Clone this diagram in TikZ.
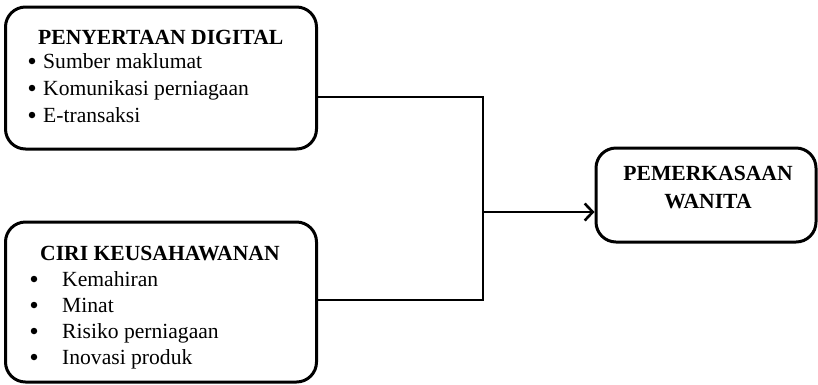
\documentclass[tikz,border=0pt]{standalone}
\usepackage{fontspec}
\setmainfont{Liberation Serif}
\usetikzlibrary{arrows.meta}
\begin{document}
\begin{tikzpicture}[x=1pt,y=-1pt,
  box/.style={draw,line width=3pt,rounded corners=20pt,inner sep=0pt},
  txt/.style={anchor=base west,inner sep=0pt,font=\fontsize{21.6}{26}\selectfont},
  ttl/.style={txt,font=\fontsize{21.6}{26}\selectfont\bfseries},
  bul/.style={circle,fill=black,inner sep=0pt,minimum size=6.5pt},
  conn/.style={line width=2.6pt},
  arr/.style={conn,-{Straight Barb[length=8pt,width=17pt,line width=2.6pt]}}]
\useasboundingbox (0,0) rectangle (818,384);
% boxes
\node[box,minimum width=311pt,minimum height=142pt] (b1) at (161,78) {};
\node[box,minimum width=311pt,minimum height=160pt] (b2) at (161,302) {};
\node[box,minimum width=220pt,minimum height=94pt] (b3) at (706,195) {};
% box 1 text
\node[ttl] (t1) at (38,44) {PENYERTAAN DIGITAL};
\node[bul] (p1) at (32,61) {};
\node[txt] (l1) at (43,68) {Sumber maklumat};
\node[bul] (p2) at (32,88) {};
\node[txt] (l2) at (43,95) {Komunikasi perniagaan};
\node[bul] (p3) at (32,115) {};
\node[txt] (l3) at (43,122) {E-transaksi};
% box 2 text
\node[ttl] (t2) at (40,260) {CIRI KEUSAHAWANAN};
\node[bul] (q1) at (34,279) {};
\node[txt] (m1) at (62,286) {Kemahiran};
\node[bul] (q2) at (34,305) {};
\node[txt] (m2) at (62,312) {Minat};
\node[bul] (q3) at (34,331) {};
\node[txt] (m3) at (62,338) {Risiko perniagaan};
\node[bul] (q4) at (34,357) {};
\node[txt] (m4) at (62,364) {Inovasi produk};
% box 3 text
\node[ttl,anchor=base] (r1) at (708,180) {PEMERKASAAN};
\node[ttl,anchor=base] (r2) at (708,208) {WANITA};
% connectors
\coordinate (j1) at (483,97);
\coordinate (j2) at (483,300);
\coordinate (j3) at (483,212);
\draw[conn] (b1.east |- j1) -- (j1) -- (j2) -- (b2.east |- j2);
\draw[arr] (j3) -- (b3.west |- j3);
\end{tikzpicture}
\end{document}
